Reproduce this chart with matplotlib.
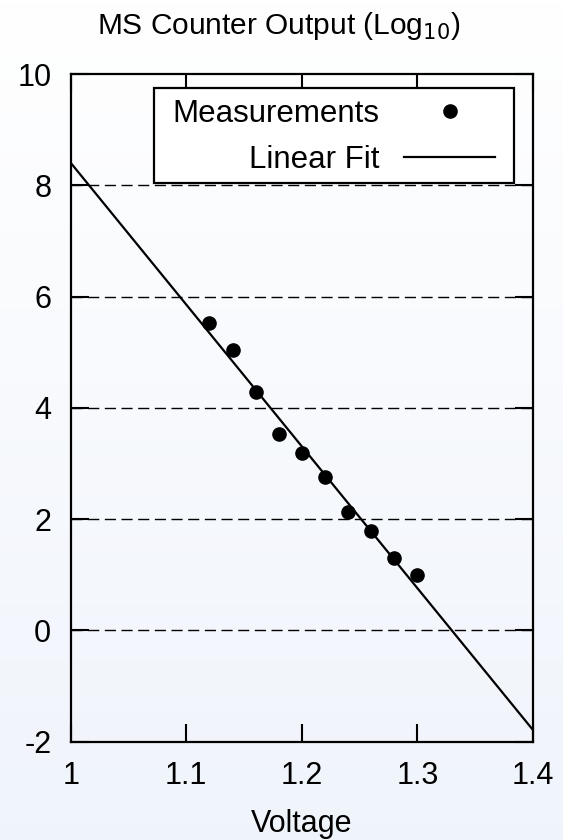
import numpy as np
import matplotlib.pyplot as plt
from matplotlib.patches import Rectangle

plt.rcParams['font.family'] = ['Liberation Sans', 'DejaVu Sans']
plt.rcParams['axes.unicode_minus'] = False

voltage = [1.12, 1.14, 1.16, 1.18, 1.20, 1.22, 1.24, 1.26, 1.28, 1.30]
log_counts = [5.53, 5.04, 4.28, 3.53, 3.18, 2.76, 2.12, 1.78, 1.30, 1.00]
x_ticks = [1, 1.1, 1.2, 1.3, 1.4]
x_labels = ['1', '1.1', '1.2', '1.3', '1.4']
y_ticks = [-2, 0, 2, 4, 6, 8, 10]

slope, intercept = np.polyfit(voltage, log_counts, 1)
xfit = np.array([1.0, 1.4])
yfit = slope * xfit + intercept

fig = plt.figure(figsize=(5.63, 8.4), dpi=100)

# background gradient: white at top, pale blue at bottom
bg = fig.add_axes([0, 0, 1, 1], zorder=-10)
grad = np.linspace(0, 1, 256).reshape(-1, 1)
top = np.array([1.0, 1.0, 1.0])
bottom = np.array([0.94, 0.957, 0.985])
img = top + (bottom - top) * grad[:, :, None]
bg.imshow(img, aspect='auto', extent=[0, 1, 0, 1])
bg.axis('off')

ax = fig.add_axes([70.7 / 563, 1 - 741.7 / 840, (533 - 70.7) / 563, (741.7 - 74) / 840])
ax.patch.set_alpha(0)

for y in y_ticks[1:-1]:
    ax.axhline(y, color='black', lw=1, ls=(0, (8, 4)), zorder=1)

ax.plot(xfit, yfit, color='black', lw=1.6, label='Linear Fit', zorder=3)
ax.plot(voltage, log_counts, 'o', color='black', ms=9.5, label='Measurements', zorder=4)

ax.set_xlim(1, 1.4)
ax.set_ylim(-2, 10)
ax.set_xticks(x_ticks)
ax.set_xticklabels(x_labels)
ax.set_yticks(y_ticks)
ax.tick_params(direction='in', length=13, width=1.5, labelsize=22,
               top=True, right=True, pad=14)
for s in ax.spines.values():
    s.set_linewidth(1.6)

ax.set_xlabel('Voltage', fontsize=22, labelpad=13)
fig.text(0.495, 0.969, 'MS Counter Output (Log$_{10}$)', fontsize=21.5,
         ha='center', va='center')

# legend frame (gnuplot style box)
ax.add_patch(Rectangle((0.180, 0.837), 0.779, 0.142, transform=ax.transAxes,
                       facecolor='white', edgecolor='black', lw=1.6, zorder=5))
handles, labels = ax.get_legend_handles_labels()
leg = ax.legend(handles[::-1], labels[::-1], loc='upper right',
                bbox_to_anchor=(0.9416, 0.979), borderaxespad=0,
                fontsize=22.5, markerfirst=False, handlelength=2.9,
                frameon=False, borderpad=0.35, labelspacing=0.5,
                handletextpad=0.8)
leg.set_zorder(6)

fig.savefig('out.png', dpi=100)
